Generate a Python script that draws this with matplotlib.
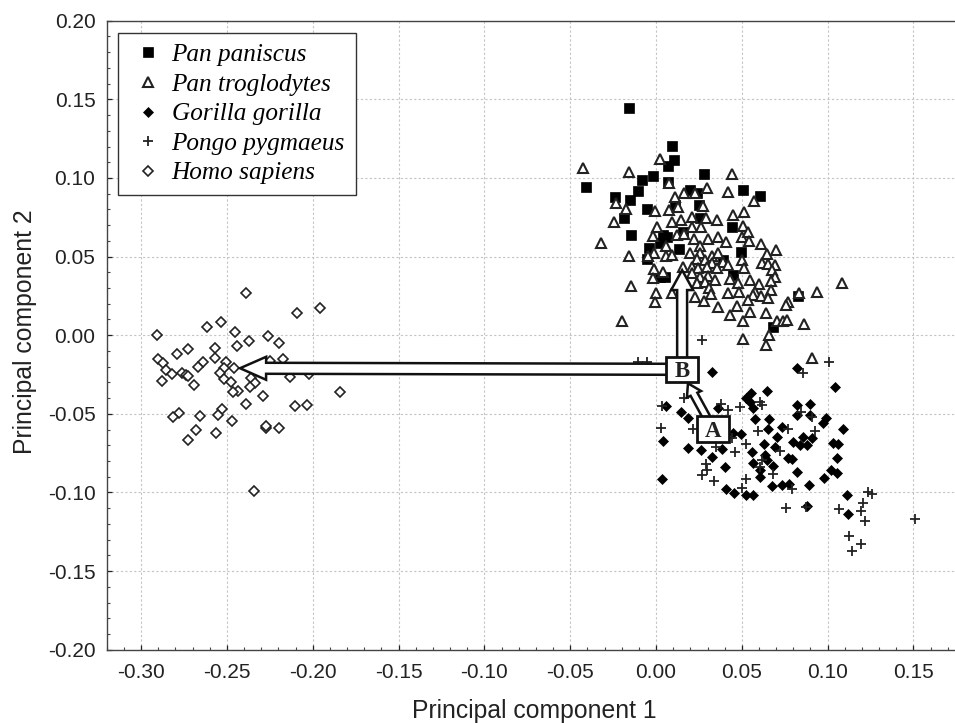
import matplotlib
matplotlib.use("Agg")
import matplotlib.pyplot as plt
from matplotlib.patches import FancyArrow, Rectangle
from matplotlib.ticker import FormatStrFormatter, MultipleLocator

plt.rcParams["font.family"] = ["Liberation Sans", "DejaVu Sans"]
plt.rcParams["axes.unicode_minus"] = False

# valores
pan_paniscus_x = [-0.0159, 0.0091, 0.0107, 0.0068, -0.0019, -0.0081, -0.0409, 0.0281, 0.0072, -0.0103, -0.0239, -0.0149,
                  0.0198, 0.0237, 0.0508, 0.0603, -0.0050, -0.0186, 0.0111, 0.0250, 0.0256, -0.0147, 0.0440, 0.0043,
                  0.0023, 0.0066, 0.0159, -0.0039, 0.0136, 0.0495, -0.0052, 0.0392, 0.0052, 0.0023, 0.0446, 0.0679, 0.0828]
pan_paniscus_y = [0.1443, 0.1206, 0.1116, 0.1076, 0.1015, 0.0987, 0.0940, 0.1025, 0.0972, 0.0915, 0.0879, 0.0862,
                  0.0924, 0.0907, 0.0926, 0.0883, 0.0801, 0.0745, 0.0828, 0.0828, 0.0743, 0.0637, 0.0690, 0.0637,
                  0.0585, 0.0627, 0.0659, 0.0553, 0.0546, 0.0529, 0.0483, 0.0478, 0.0368, 0.0372, 0.0383, 0.0050, 0.0251]

pan_troglodytes_x = [-0.0427, 0.0025, -0.0155, 0.0442, 0.0076, 0.0295, 0.0417, 0.0163, 0.0227, 0.0111, -0.0233, 0.0570,
                     0.0275, -0.0175, -0.0004, 0.0078, 0.0126, 0.0514, 0.0450, -0.0243, 0.0091, 0.0146, 0.0211, 0.0291,
                     0.0357, 0.0004, 0.0208, 0.0262, 0.0508, -0.0016, 0.0124, 0.0163, 0.0221, 0.0301, 0.0363, 0.0502,
                     0.0537, 0.0543, 0.0407, -0.0320, 0.0058, 0.0256, 0.0611, 0.0698, -0.0155, -0.0012, -0.0045, 0.0058,
                     0.0091, 0.0198, 0.0256, 0.0324, 0.0363, 0.0648, 0.0237, 0.0285, 0.0324, 0.0499, 0.0392, 0.0615,
                     0.0654, 0.0693, -0.0010, 0.0043, 0.0159, 0.0208, 0.0246, 0.0295, 0.0353, 0.0421, 0.0512, 0.0673,
                     0.0208, 0.0256, 0.0305, 0.0343, -0.0016, 0.0431, 0.0547, 0.0693, 0.0241, 0.0285, 0.0475, 0.0601,
                     0.0667, -0.0144, 0.1086, 0.0310, 0.0576, 0.0667, 0.0935, 0.0832, -0.0002, 0.0091, 0.0320, 0.0417,
                     0.0483, 0.0566, 0.0611, 0.0654, 0.0227, 0.0281, 0.0534, -0.0006, 0.0770, 0.0760, 0.0359, 0.0469,
                     0.0431, 0.0547, 0.0638, -0.0196, 0.0508, 0.0702, 0.0741, 0.0764, 0.0863, 0.0508, 0.0660, 0.0640,
                     0.0910]
pan_troglodytes_y = [0.1061, 0.1120, 0.1040, 0.1023, 0.0966, 0.0938, 0.0909, 0.0902, 0.0902, 0.0877, 0.0843, 0.0853,
                     0.0824, 0.0805, 0.0790, 0.0796, 0.0813, 0.0786, 0.0762, 0.0718, 0.0718, 0.0733, 0.0750, 0.0743,
                     0.0733, 0.0690, 0.0690, 0.0690, 0.0694, 0.0633, 0.0637, 0.0644, 0.0612, 0.0610, 0.0627, 0.0627,
                     0.0659, 0.0601, 0.0591, 0.0585, 0.0569, 0.0569, 0.0578, 0.0542, 0.0504, 0.0525, 0.0504, 0.0504,
                     0.0510, 0.0525, 0.0521, 0.0506, 0.0521, 0.0514, 0.0483, 0.0478, 0.0457, 0.0478, 0.0468, 0.0461,
                     0.0453, 0.0446, 0.0421, 0.0404, 0.0436, 0.0436, 0.0425, 0.0436, 0.0425, 0.0446, 0.0429, 0.0415,
                     0.0393, 0.0372, 0.0377, 0.0351, 0.0362, 0.0356, 0.0351, 0.0368, 0.0334, 0.0340, 0.0330, 0.0326,
                     0.0345, 0.0313, 0.0330, 0.0298, 0.0277, 0.0288, 0.0277, 0.0271, 0.0266, 0.0266, 0.0262, 0.0266,
                     0.0273, 0.0256, 0.0249, 0.0234, 0.0245, 0.0220, 0.0224, 0.0209, 0.0213, 0.0192, 0.0177, 0.0186,
                     0.0131, 0.0150, 0.0143, 0.0090, 0.0090, 0.0092, 0.0090, 0.0097, 0.0071, -0.0024, 0.0001, -0.0062,
                     -0.0143]

gorilla_x = [0.0324, 0.0823, 0.1042, 0.0644, 0.0551, 0.0524, 0.0547, 0.0566, 0.0058, 0.0819, 0.0896, 0.0146, 0.0188,
             0.0363, 0.0819, 0.0896, 0.0576, 0.0658, 0.0993, 0.0974, 0.0735, 0.0654, 0.1090, 0.0450, 0.0493, 0.0706,
             0.0043, 0.0857, 0.0906, 0.0799, 0.0838, 0.0877, 0.1032, 0.1061, 0.0629, 0.0188, 0.0260, 0.0382, 0.0561,
             0.0693, 0.0634, 0.1055, 0.0324, 0.0770, 0.0795, 0.0563, 0.0644, 0.0402, 0.0683, 0.0605, 0.0819, 0.1017,
             0.1055, 0.0605, 0.0978, 0.0033, 0.0673, 0.0735, 0.0774, 0.0890, 0.0407, 0.0456, 0.0522, 0.0563, 0.1110,
             0.0877, 0.1119]
gorilla_y = [-0.0236, -0.0211, -0.0327, -0.0355, -0.0365, -0.0402, -0.0423, -0.0465, -0.0448, -0.0444, -0.0437, -0.0491,
             -0.0529, -0.0465, -0.0508, -0.0508, -0.0535, -0.0533, -0.0529, -0.0561, -0.0582, -0.0599, -0.0599, -0.0624,
             -0.0628, -0.0645, -0.0673, -0.0645, -0.0656, -0.0677, -0.0698, -0.0698, -0.0683, -0.0692, -0.0694, -0.0715,
             -0.0730, -0.0724, -0.0741, -0.0709, -0.0762, -0.0779, -0.0777, -0.0783, -0.0787, -0.0815, -0.0794, -0.0836,
             -0.0830, -0.0857, -0.0872, -0.0857, -0.0879, -0.0900, -0.0906, -0.0917, -0.0959, -0.0953, -0.0946, -0.0955,
             -0.0978, -0.1006, -0.1016, -0.1016, -0.1016, -0.1084, -0.1137]

pongo_x = [0.1009, 0.0857, 0.0163, 0.0378, 0.0033, 0.0489, 0.0421, 0.0605, 0.0615, 0.0844, 0.0906, 0.0027, 0.0217,
           0.0770, 0.0596, 0.0925, 0.0440, 0.0524, 0.0349, 0.0460, 0.0722, 0.0615, 0.0289, 0.0299, 0.0266, 0.0605,
           0.0679, 0.0524, 0.0340, 0.0499, 0.0790, 0.0760, 0.0873, 0.1065, 0.1236, 0.1259, 0.1207, 0.1197, 0.1216,
           0.1507, 0.1125, 0.1197, 0.1139, 0.0266, -0.0103, -0.0054]
pongo_y = [-0.0173, -0.0243, -0.0402, -0.0437, -0.0450, -0.0459, -0.0476, -0.0423, -0.0444, -0.0486, -0.0522, -0.0588,
           -0.0599, -0.0599, -0.0609, -0.0607, -0.0656, -0.0692, -0.0713, -0.0741, -0.0737, -0.0794, -0.0819, -0.0857,
           -0.0889, -0.0836, -0.0883, -0.0917, -0.0927, -0.0970, -0.0980, -0.1097, -0.1090, -0.1108, -0.0995, -0.1010,
           -0.1069, -0.1116, -0.1180, -0.1167, -0.1277, -0.1328, -0.1370, -0.0030, -0.0170, -0.0170]

homo_x = [-0.2392, -0.1959, -0.2091, -0.2532, -0.2619, -0.2454, -0.2910, -0.2262, -0.2371, -0.2194, -0.2444, -0.2728,
          -0.2572, -0.2790, -0.2900, -0.2572, -0.2873, -0.2640, -0.2508, -0.2173, -0.2250, -0.2669, -0.2518, -0.2460,
          -0.2854, -0.2819, -0.2761, -0.2741, -0.2728, -0.2543, -0.2877, -0.2518, -0.2359, -0.2130, -0.2020, -0.2693,
          -0.2479, -0.2338, -0.2363, -0.2435, -0.2464, -0.2291, -0.1839, -0.2390, -0.2101, -0.2033, -0.2528, -0.2780,
          -0.2813, -0.2660, -0.2553, -0.2470, -0.2272, -0.2272, -0.2198, -0.2679, -0.2563, -0.2728, -0.2340]
homo_y = [0.0266, 0.0171, 0.0139, 0.0086, 0.0050, 0.0022, 0.0001, -0.0005, -0.0037, -0.0047, -0.0067, -0.0086,
          -0.0079, -0.0122, -0.0151, -0.0143, -0.0179, -0.0168, -0.0173, -0.0151, -0.0162, -0.0200, -0.0211, -0.0206,
          -0.0221, -0.0249, -0.0238, -0.0253, -0.0257, -0.0243, -0.0289, -0.0278, -0.0270, -0.0268, -0.0247, -0.0317,
          -0.0300, -0.0306, -0.0327, -0.0353, -0.0363, -0.0385, -0.0363, -0.0438, -0.0450, -0.0446, -0.0467, -0.0497,
          -0.0520, -0.0512, -0.0505, -0.0544, -0.0592, -0.0575, -0.0588, -0.0605, -0.0622, -0.0669, -0.0989]

# caixas A e B e pontas das setas
ponto_a = (0.0332, -0.0596)
ponto_b = (0.0152, -0.0217)
seta_humano = (-0.2424, -0.0210)
seta_pan = (0.0152, 0.0414)
seta_ab = (0.0186, -0.0306)
caixa_largura = 0.0186
caixa_altura = 0.0162


def desenhar_seta(ax, origem, alvo, largura, cabeca_largura, cabeca_comprimento):
    """Seta vazada com haste de largura constante."""
    seta = FancyArrow(origem[0], origem[1], alvo[0] - origem[0], alvo[1] - origem[1], width=largura,
                      head_width=cabeca_largura, head_length=cabeca_comprimento, length_includes_head=True,
                      fc="white", ec="#111111", lw=1.8, zorder=6)
    ax.add_patch(seta)


fig = plt.figure(figsize=(9.55, 7.23), dpi=100)
ax = fig.add_axes([106.5 / 955, 1 - 649.7 / 723, (955 - 106.5) / 955, (649.7 - 20.7) / 723])

ax.plot(pan_paniscus_x, pan_paniscus_y, ls="none", marker="s", ms=7.8, mfc="black", mec="black", mew=0.5, label="Pan paniscus", zorder=3)
ax.plot(gorilla_x, gorilla_y, ls="none", marker="D", ms=5.4, mfc="black", mec="black", mew=0.5, label="Gorilla gorilla", zorder=3)
ax.plot(pongo_x, pongo_y, ls="none", marker="+", ms=7.2, mec="#222222", mew=1.3, label="Pongo pygmaeus", zorder=4)
ax.plot(homo_x, homo_y, ls="none", marker="D", ms=5.2, mfc="white", mec="#222222", mew=1.2, label="Homo sapiens", zorder=3)
ax.plot(pan_troglodytes_x, pan_troglodytes_y, ls="none", marker="^", ms=6.8, mfc="white", mec="#222222", mew=1.5, label="Pan troglodytes", zorder=4)

ax.set_xlim(-0.3202, 0.1742)
ax.set_ylim(-0.20, 0.20)
ax.xaxis.set_major_locator(MultipleLocator(0.05))
ax.xaxis.set_minor_locator(MultipleLocator(0.01))
ax.yaxis.set_major_locator(MultipleLocator(0.05))
ax.yaxis.set_minor_locator(MultipleLocator(0.01))
ax.xaxis.set_major_formatter(FormatStrFormatter("%.2f"))
ax.yaxis.set_major_formatter(FormatStrFormatter("%.2f"))
ax.tick_params(which="major", direction="in", length=3.5, width=0.9, labelsize=15, colors="#222222")
ax.tick_params(axis="x", which="major", pad=9.5)
ax.tick_params(axis="y", which="major", pad=8)
ax.tick_params(which="minor", direction="in", length=2, width=0.8, color="#444444")
ax.grid(True, which="major", color="#c4c4c4", linestyle=(0, (2, 2)), linewidth=0.8)
ax.set_axisbelow(True)
ax.spines["right"].set_visible(False)
for lado in ["left", "bottom", "top"]:
    ax.spines[lado].set_color("#444444")
    ax.spines[lado].set_linewidth(1.0)

ax.set_xlabel("Principal component 1", fontsize=17.8, color="#222222")
ax.set_ylabel("Principal component 2", fontsize=17.8, color="#222222")
ax.xaxis.set_label_coords(0.504, -0.078)
ax.yaxis.set_label_coords(-0.082, 0.506)

# setas vazadas
desenhar_seta(ax, ponto_b, seta_humano, 0.0070, 0.0146, 0.0152)
desenhar_seta(ax, ponto_b, seta_pan, 0.0058, 0.0128, 0.0127)
desenhar_seta(ax, ponto_a, seta_ab, 0.0044, 0.0092, 0.0078)

for rotulo, ponto in [("A", ponto_a), ("B", ponto_b)]:
    ax.add_patch(Rectangle((ponto[0] - caixa_largura / 2, ponto[1] - caixa_altura / 2), caixa_largura, caixa_altura,
                           fc="white", ec="#111111", lw=2, zorder=7))
    ax.text(ponto[0], ponto[1], rotulo, ha="center", va="center_baseline", fontsize=16.5, fontweight="bold", color="#222222",
            family="Liberation Serif", zorder=8)

manipuladores, rotulos = ax.get_legend_handles_labels()
ordem = ["Pan paniscus", "Pan troglodytes", "Gorilla gorilla", "Pongo pygmaeus", "Homo sapiens"]
handles = [manipuladores[rotulos.index(nome)] for nome in ordem]
legenda = ax.legend(handles, ordem, loc="upper left", bbox_to_anchor=((118 - 106.5) / 848.5, 1 - (33 - 20.7) / 629),
                    borderaxespad=0, fancybox=False, framealpha=1, edgecolor="#333333", labelspacing=0.27,
                    handletextpad=0.2, handlelength=1.5, borderpad=0.42,
                    prop={"family": "Liberation Serif", "style": "italic", "size": 18.2})
legenda.get_frame().set_linewidth(1.0)
legenda.set_zorder(9)

fig.savefig("out.png", dpi=100)
